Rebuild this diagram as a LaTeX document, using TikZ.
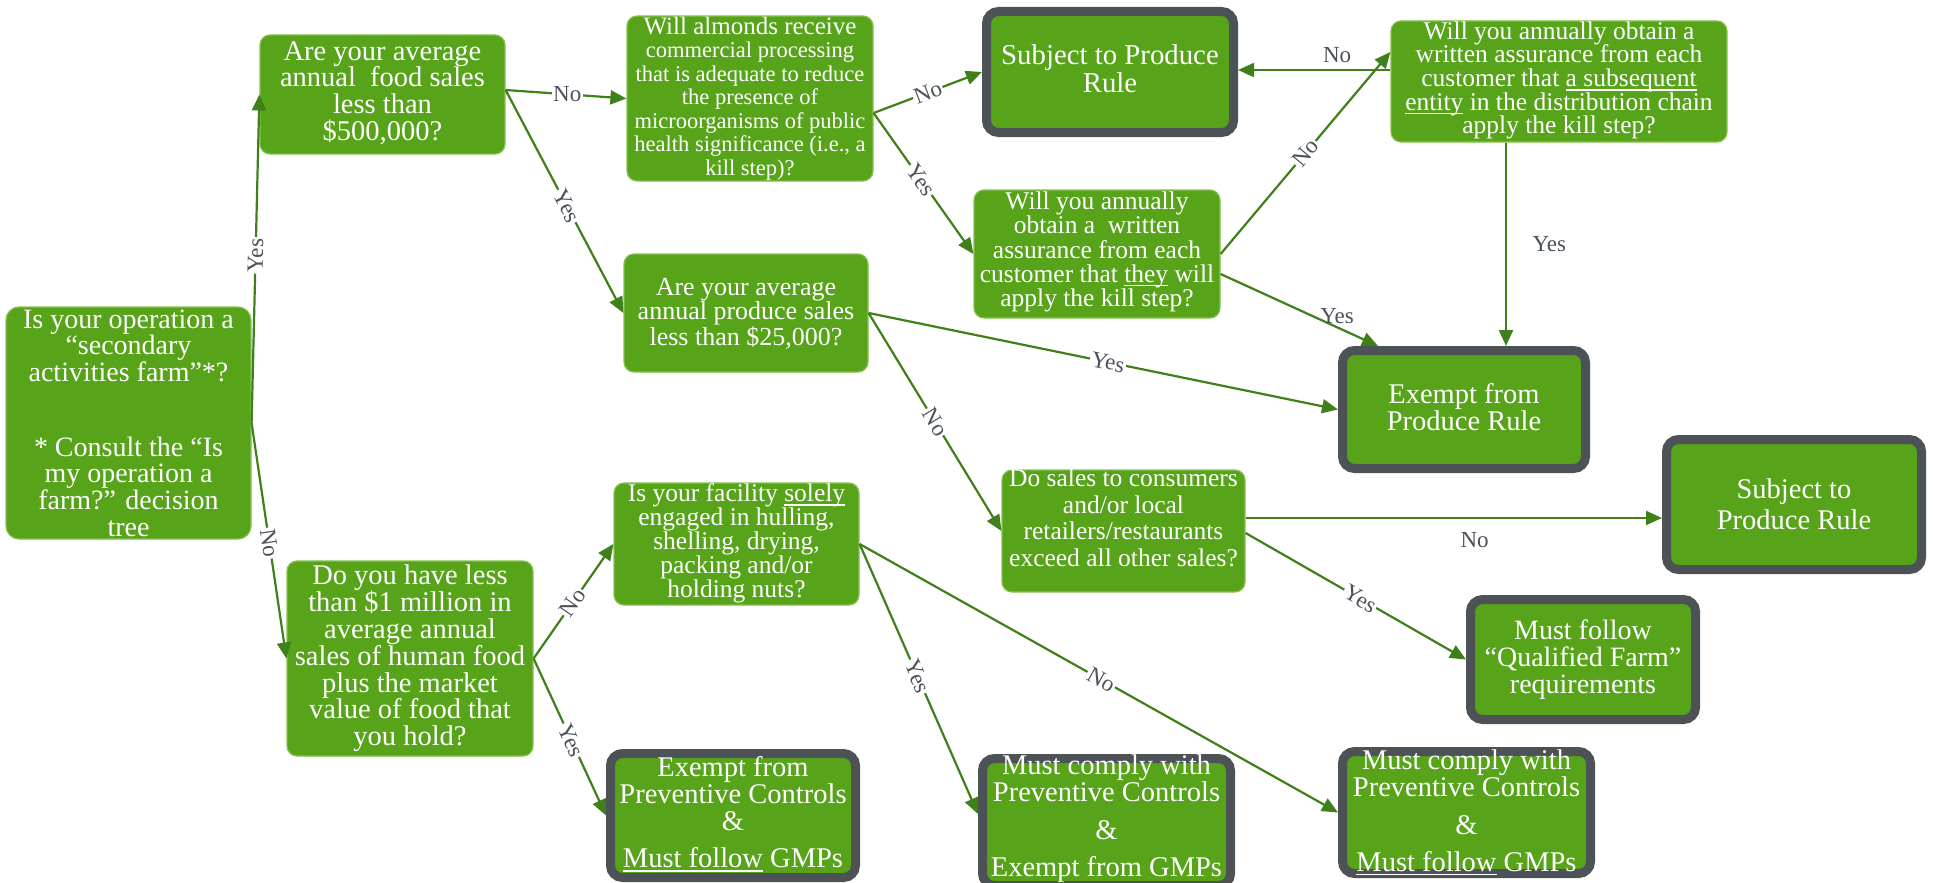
\documentclass[tikz,border=0pt]{standalone}
\usepackage{fontspec}
\setmainfont{Liberation Serif}
\usetikzlibrary{arrows.meta,calc}
\definecolor{leaf}{HTML}{57A41B}
\definecolor{leafedge}{HTML}{86C24E}
\definecolor{slate}{HTML}{4D5256}
\definecolor{stem}{HTML}{40801A}
\definecolor{ink}{HTML}{4B5159}
\newcommand\fsz[2]{\fontsize{#1}{#2}\selectfont}
\newsavebox\ulbox
\newcommand\ulin[1]{\sbox\ulbox{#1}\rlap{\rule[-4pt]{\wd\ulbox}{1.5pt}}\usebox\ulbox}
\begin{document}
\begin{tikzpicture}[x=1pt,y=-1pt,
  qbox/.style={draw=leafedge, line width=1.2pt, fill=leaf, rounded corners=10pt, inner sep=0pt},
  tbox/.style={draw=slate, line width=9pt, fill=leaf, rounded corners=12pt, inner sep=0pt, outer sep=4.5pt},
  words/.style={text=white, align=center, inner sep=0pt},
  arr/.style={draw=stem, line width=2.2pt, -{Triangle[length=16pt,width=14pt]}},
  lab/.style={text=ink, font=\fsz{23}{26}, inner sep=1.5pt, fill=white}]
\useasboundingbox (0,0) rectangle (1933,883);
\clip (0,0) rectangle (1933,883);
\fill[white] (0,0) rectangle (1933,883);

% question boxes
\node[qbox, rounded corners=13pt, minimum width=245pt, minimum height=232pt] (A) at (128.5,423) {};
\node[words, font=\fsz{28}{26.7}] (A-t) at (128.5,423) {Is your operation a\\“secondary\\activities farm”*?\\[48pt]* Consult the “Is\\my operation a\\farm?” decision\\tree};

\node[qbox, minimum width=245pt, minimum height=119pt] (B) at (382.5,94.5) {};
\node[words, font=\fsz{28.5}{26.7}] (B-t) at (382.5,93) {Are your average\\annual\ \ food sales\\less than\\\$500,000?};

\node[qbox, minimum width=246pt, minimum height=165pt] (C) at (750,98.5) {};
\node[words, font=\fsz{22.5}{23.5}] (C-t) at (750,98.5) {{\fsz{25}{23.5}Will almonds receive}\\commercial processing\\that is adequate to reduce\\the presence of\\microorganisms of public\\health significance (i.e., a\\kill step)?};

\node[qbox, minimum width=336pt, minimum height=121pt] (E) at (1559,81.5) {};
\node[words, font=\fsz{25.5}{23.7}] (E-t) at (1559,80.5) {Will you annually obtain a\\written assurance from each\\customer that \ulin{a subsequent}\\\ulin{entity} in the distribution chain\\apply the kill step?};

\node[qbox, minimum width=246pt, minimum height=128pt] (F) at (1097,254) {};
\node[words, font=\fsz{25.5}{24.3}] (F-t) at (1097,252) {Will you annually\\obtain a\ \ written\\assurance from each\\customer that \ulin{they} will\\apply the kill step?};

\node[qbox, minimum width=244pt, minimum height=118pt] (G) at (746,313) {};
\node[words, font=\fsz{26}{24}] (G-t) at (746,314) {Are your average\\annual produce sales\\less than \$25,000?};

\node[qbox, minimum width=243pt, minimum height=122pt] (J) at (1123.5,531) {};
\node[words, font=\fsz{25.5}{26.5}] (J-t) at (1123.5,518) {Do sales to consumers\\and/or local\\retailers/restaurants\\exceed all other sales?};

\node[qbox, minimum width=245pt, minimum height=122pt] (L) at (736.5,544) {};
\node[words, font=\fsz{25.5}{24}] (L-t) at (736.5,543.5) {Is your facility \ulin{solely}\\engaged in hulling,\\shelling, drying,\\packing and/or\\holding nuts?};

\node[qbox, minimum width=246pt, minimum height=195pt] (M) at (410,658.5) {};
\node[words, font=\fsz{28.5}{26.7}] (M-t) at (410,658) {Do you have less\\than \$1 million in\\average annual\\sales of human food\\plus the market\\value of food that\\you hold?};

% outcome boxes
\node[tbox, minimum width=247pt, minimum height=121pt] (D) at (1110,72) {};
\node[words, font=\fsz{28.8}{28}] (D-t) at (1110,69) {Subject to Produce\\Rule};

\node[tbox, minimum width=243pt, minimum height=118pt] (H) at (1464,409.5) {};
\node[words, font=\fsz{28.5}{27.5}] (H-t) at (1464,407) {Exempt from\\Produce Rule};

\node[tbox, minimum width=255pt, minimum height=130pt] (I) at (1794,504.5) {};
\node[words, font=\fsz{28.5}{31}] (I-t) at (1794,504) {Subject to\\Produce Rule};

\node[tbox, minimum width=225pt, minimum height=120pt] (K) at (1583,659.5) {};
\node[words, font=\fsz{28}{27}] (K-t) at (1583,659.5) {Must follow\\“Qualified Farm”\\requirements};

\node[tbox, minimum width=245pt, minimum height=124pt] (N) at (733,815.5) {};
\node[words, font=\fsz{28.5}{27}] (N-t) at (733,814) {Exempt from\\Preventive Controls\\\&\\[10pt]\ulin{Must follow} GMPs};

\node[tbox, minimum width=248pt, minimum height=127pt] (O) at (1106.5,822) {};
\node[words, font=\fsz{28.5}{27}] (O-t) at (1106.5,819) {Must comply with\\Preventive Controls\\[11pt]\&\\[10pt]Exempt from GMPs};

\node[tbox, minimum width=248pt, minimum height=122pt] (P) at (1466.5,812.5) {};
\node[words, font=\fsz{28.5}{26.5}] (P-t) at (1466.5,812.5) {Must comply with\\Preventive Controls\\[12pt]\&\\[10pt]\ulin{Must follow} GMPs};

% connectors
\coordinate (Bx) at ([yshift=4.5pt]B.east);
\coordinate (Cx) at ([yshift=-14.5pt]C.east);
\coordinate (Ew) at ([yshift=11.5pt]E.west);
\coordinate (Es) at ([xshift=-53pt]E.south);
\coordinate (Je) at ([yshift=13pt]J.east);

\draw[arr] (A.east) -- node[lab, sloped, pos=0.51] (l1) {Yes} (B.west);
\draw[arr] (A.east) -- node[lab, sloped, pos=0.51] (l2) {No} (M.west);
\draw[arr] (Bx) -- node[lab, pos=0.51] (l3) {No} (C.west);
\draw[arr] (Bx) -- node[lab, sloped, pos=0.52] (l4) {Yes} (G.west);
\draw[arr] (Cx) -- node[lab, sloped, pos=0.5] (l5) {No} (D.west);
\draw[arr] (Cx) -- node[lab, sloped, pos=0.475] (l6) {Yes} (F.west);
\draw[arr] (F.east) -- node[lab, sloped, pos=0.5] (l7) {No} ([yshift=29.5pt]E.west);
\draw[arr] (Ew) -- node[lab, fill=none, pos=0.35, above=5pt] (l8) {No} (Ew -| D.east);
\draw[arr] (Es) -- node[lab, fill=none, pos=0.5, right=24pt] (l9) {Yes} (Es |- H.north);
\draw[arr] ([yshift=-20pt]F.east) -- node[lab, fill=none, pos=0.74, above=1pt] (l10) {Yes} ([xshift=40pt]H.north west);
\draw[arr] (G.east) -- node[lab, sloped, pos=0.51] (l11) {Yes} (H.west);
\draw[arr] (G.east) -- node[lab, sloped, pos=0.5] (l12) {No} (J.west);
\draw[arr] (Je) -- node[lab, fill=none, pos=0.55, below=12pt] (l13) {No} (Je -| I.west);
\draw[arr] ([yshift=-2pt]J.east) -- node[lab, sloped, pos=0.52] (l14) {Yes} (K.west);
\draw[arr] (M.east) -- node[lab, sloped, pos=0.49] (l15) {No} (L.west);
\draw[arr] (M.east) -- node[lab, sloped, pos=0.52] (l16) {Yes} (N.west);
\draw[arr] (L.east) -- node[lab, sloped, pos=0.49] (l17) {Yes} ([yshift=8pt]O.west);
\draw[arr] (L.east) -- node[lab, sloped, pos=0.505] (l18) {No} (P.west);
\end{tikzpicture}
\end{document}
